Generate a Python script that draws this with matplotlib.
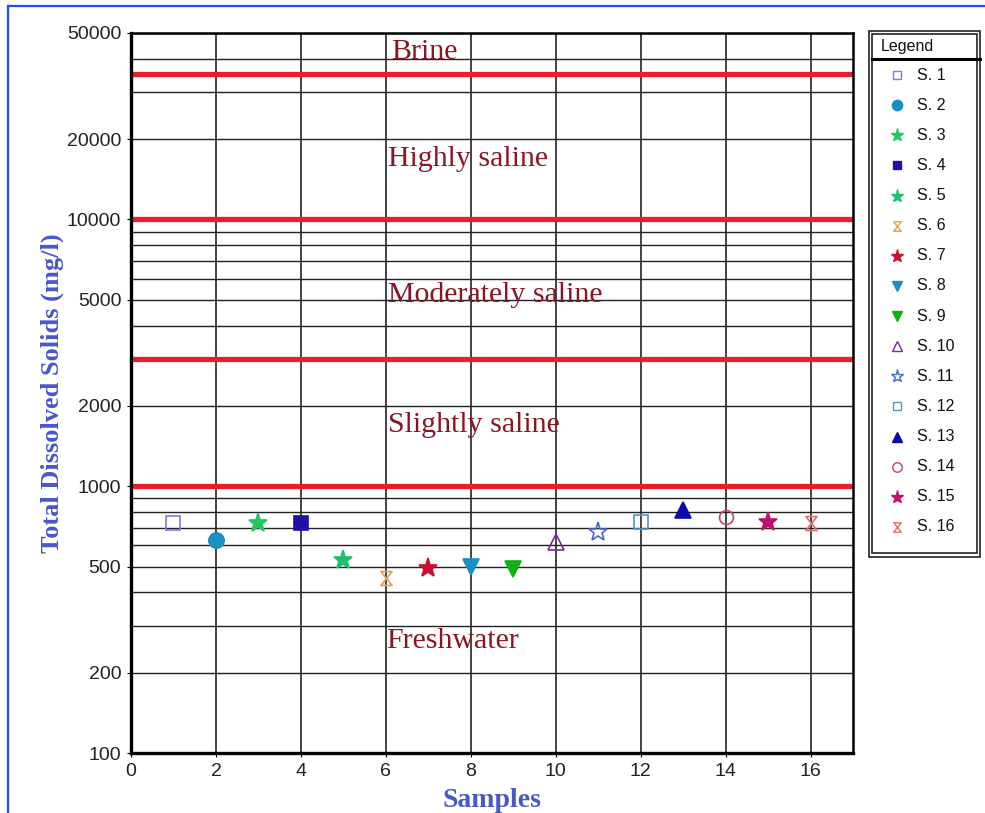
import matplotlib
matplotlib.use("Agg")
import matplotlib.pyplot as plt
from matplotlib.path import Path
from matplotlib.lines import Line2D
from matplotlib.patches import Rectangle
from matplotlib.ticker import FixedLocator, NullFormatter

# --- data -------------------------------------------------------------
samples = ["S. 1", "S. 2", "S. 3", "S. 4", "S. 5", "S. 6", "S. 7", "S. 8",
           "S. 9", "S. 10", "S. 11", "S. 12", "S. 13", "S. 14", "S. 15", "S. 16"]
sample_no = list(range(1, 17))
tds = [728, 629, 728, 728, 529, 453, 494, 498,
       489, 617, 673, 734, 814, 767, 734, 730]

boundaries = [1000, 3000, 10000, 35000]
zone_names = ["Freshwater", "Slightly saline", "Moderately saline",
              "Highly saline", "Brine"]
zone_label_y = [262, 1700, 5200, 16800, 42500]
zone_label_x = [6.0, 6.05, 6.05, 6.05, 6.12]

y_tick_values = [100, 200, 500, 1000, 2000, 5000, 10000, 20000, 50000]
x_tick_values = [0, 2, 4, 6, 8, 10, 12, 14, 16]

# --- marker styles ----------------------------------------------------
hourglass = Path([(-0.8, 1), (0.8, 1), (-0.8, -1), (0.8, -1), (-0.8, 1)],
                 [Path.MOVETO, Path.LINETO, Path.LINETO, Path.LINETO, Path.CLOSEPOLY])

styles = [
    ("s", "#7b7be8", False, 9.5),
    ("o", "#1a90c0", True, 11),
    ("*", "#22c55e", True, 14),
    ("s", "#2010a8", True, 9.5),
    ("*", "#1fbf6f", True, 14),
    (hourglass, "#e0a050", False, 10),
    ("*", "#c8102e", True, 14),
    ("v", "#1a8ec0", True, 11),
    ("v", "#12b012", True, 11),
    ("^", "#7a2a9a", False, 11),
    ("*", "#4a68c8", False, 14),
    ("s", "#4f97c4", False, 9.5),
    ("^", "#0b0ba8", True, 11),
    ("o", "#c04858", False, 10),
    ("*", "#c0106e", True, 14),
    (hourglass, "#e07070", False, 10),
]

W, H = 985, 813
fig = plt.figure(figsize=(W / 100, H / 100), dpi=100)
fig.patch.set_facecolor("white")

ax = fig.add_axes([131 / W, (H - 753) / H, 722 / W, 720 / H])
ax.set_yscale("log")
ax.set_ylim(100, 50000)
ax.set_xlim(0, 17)

ax.yaxis.set_major_locator(FixedLocator(y_tick_values))
ax.set_yticklabels([str(v) for v in y_tick_values])
minor = [m * d for d in (100, 1000, 10000) for m in range(1, 10)
         if m * d not in y_tick_values and m * d < 50000]
ax.yaxis.set_minor_locator(FixedLocator(minor))
ax.yaxis.set_minor_formatter(NullFormatter())
ax.set_xticks(x_tick_values)

ax.grid(True, which="both", axis="y", color="#222222", lw=1.0)
ax.grid(True, which="major", axis="x", color="#111111", lw=1.1)
ax.set_axisbelow(True)

for side in ("left", "bottom"):
    ax.spines[side].set_linewidth(2.4)
for side in ("top", "right"):
    ax.spines[side].set_linewidth(1.8)

ax.tick_params(axis="both", which="major", labelsize=14, length=3,
               labelcolor="#222222", pad=4)
ax.tick_params(axis="both", which="minor", length=0)
for lbl in ax.get_xticklabels() + ax.get_yticklabels():
    lbl.set_fontfamily("Liberation Sans")

# salinity class boundaries
for b in boundaries:
    ax.axhline(b, color="#e8202a", lw=3.8, zorder=2)

zone_color = "#8a1424"
for name, xv, yv in zip(zone_names, zone_label_x, zone_label_y):
    ax.text(xv, yv, name, fontsize=21.5, family="Liberation Serif",
            color=zone_color, ha="left", va="center", zorder=3)

# sample points
for (mk, col, filled, ms), xv, yv in zip(styles, sample_no, tds):
    ax.plot([xv], [yv], linestyle="none", marker=mk, markersize=ms,
            markeredgecolor=col, markerfacecolor=col if filled else "none",
            markeredgewidth=1.2, zorder=4, clip_on=False)

label_color = "#4858c8"
ax.set_xlabel("Samples", fontsize=20, family="Liberation Serif",
              fontweight="bold", color=label_color, labelpad=6)
ax.set_ylabel("Total Dissolved Solids (mg/l)", fontsize=19,
              family="Liberation Serif", fontweight="bold", color=label_color,
              labelpad=2)

# --- legend panel -----------------------------------------------------
lx0, ly0, lw_, lh_ = 868, 30, 113, 527
lax = fig.add_axes([lx0 / W, (H - ly0 - lh_) / H, lw_ / W, lh_ / H])
lax.set_xlim(0, lw_)
lax.set_ylim(lh_, 0)
lax.axis("off")
lax.add_patch(Rectangle((0.5, 0.5), lw_ - 1.5, lh_ - 1, fill=False,
                        ec="#222222", lw=1.2, clip_on=False))
lax.add_patch(Rectangle((4, 4), lw_ - 8, lh_ - 8, fill=False,
                        ec="#222222", lw=1.2, clip_on=False))
lax.text(13, 16, "Legend", fontsize=11.5, family="Liberation Sans",
         color="#111111", ha="left", va="center")
lax.plot([4, lw_ - 1], [29, 29], color="black", lw=2.2, clip_on=False)

for i, ((mk, col, filled, ms), name) in enumerate(zip(styles, samples)):
    yy = 45 + i * 30.13
    lax.plot([29], [yy], linestyle="none", marker=mk, markersize=ms * 0.68,
             markeredgecolor=col, markerfacecolor=col if filled else "none",
             markeredgewidth=1.0)
    lax.text(49, yy, name, fontsize=11.5, family="Liberation Sans",
             color="#111111", ha="left", va="center")

# outer page frame
fig.add_artist(Line2D([8 / W, 1], [1 - 6 / H, 1 - 6 / H], color="#2a48ff",
                      lw=1.6, transform=fig.transFigure))
fig.add_artist(Line2D([8 / W, 8 / W], [0, 1 - 6 / H], color="#2a48ff",
                      lw=1.6, transform=fig.transFigure))

fig.savefig("out.png", dpi=100, facecolor="white")
